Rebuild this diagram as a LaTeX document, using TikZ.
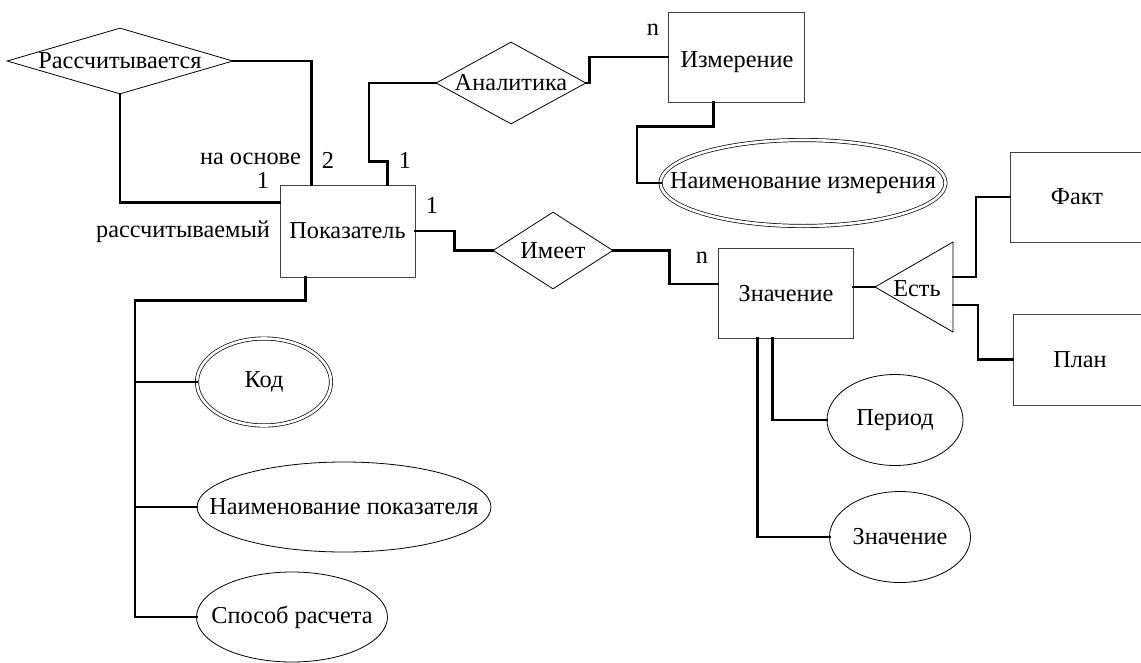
\documentclass[tikz,border=0pt]{standalone}
\usepackage{fontspec}
\setmainfont{Liberation Serif}
\usetikzlibrary{shapes.geometric}
\tikzset{
  every node/.style={font=\fontsize{24.3}{28}\selectfont, inner sep=0pt},
  ent/.style={draw=black!75, line width=0.9pt, rectangle, minimum width=135pt, minimum height=90pt},
  rel/.style={draw, line width=0.8pt, diamond},
  attr/.style={draw, line width=0.8pt, ellipse},
  attrk/.style={draw, line width=0.7pt, ellipse, double, double distance=2.6pt},
  conn/.style={line width=2.8pt, line cap=rect, line join=miter},
  lbl/.style={}
}
\begin{document}
\begin{tikzpicture}[x=1pt, y=-1pt]
\useasboundingbox (0,0) rectangle (1141,662);
\clip (0,0) rectangle (1141,662);

% entities
\node[ent, minimum width=135pt, minimum height=92pt] (pok) at (347.5,231) {Показатель};
\node[ent, minimum width=136pt, minimum height=90pt] (izm) at (736,57) {};
\node (izmt) at (737,62) {Измерение};
\node[ent] (zn) at (785.5,293) {};
\node (znt) at (786,294) {Значение};
\node[ent, minimum width=134pt, minimum height=90pt] (fakt) at (1077,197) {Факт};
\node[ent, minimum width=134pt, minimum height=91pt] (plan) at (1080,359.5) {План};

% relationships
\node[rel, minimum width=226pt, minimum height=66pt] (rass) at (120,61) {\makebox[0pt]{Рассчитывается}};
\node[rel, minimum width=150pt, minimum height=82pt] (anal) at (511,83) {\makebox[0pt]{Аналитика}};
\node[rel, minimum width=120pt, minimum height=77pt] (imeet) at (553,250.5) {\makebox[0pt]{Имеет}};

% triangle "Есть"
\coordinate (estTip) at (875,287);
\coordinate (estTop) at (953,242);
\coordinate (estBot) at (953,332);
\coordinate (estR1) at (953,277);
\coordinate (estR2) at (953,305);
\draw[line width=0.8pt] (estTip) -- (estTop) -- (estBot) -- cycle;
\node (est) at (917,289) {Есть};

% attributes
\node[attrk, minimum width=285pt, minimum height=86pt] (nizm) at (803,183) {\makebox[0pt]{Наименование измерения}};
\node[attrk, minimum width=134pt, minimum height=87pt] (kod) at (264,382) {Код};
\node[attr, minimum width=294pt, minimum height=90pt] (naimp) at (344,507) {\makebox[0pt]{Наименование показателя}};
\node[attr, minimum width=191pt, minimum height=90pt] (sposob) at (292,617) {\makebox[0pt]{Способ расчета}};
\node[attr, minimum width=136pt, minimum height=91pt] (period) at (895,420) {Период};
\node[attr, minimum width=141pt, minimum height=91pt] (znach) at (900,537) {Значение};

% connectors
\draw[conn] (rass.east) -| ([xshift=32pt]pok.north west);
\draw[conn] (rass.south) |- ([yshift=-18pt]pok.north west);
\draw[conn] ([xshift=108pt]pok.north west) -- ++(0,-23) -| (369,83) -- (anal.west);
\draw[conn] (anal.east) -- ++(3,0) |- (izm.west);
\draw[conn] ([xshift=46pt]izm.south west) -- ++(0,24) -| (637,183) -- (nizm.west);
\draw[conn] (pok.east) -- ++(39,0) |- (imeet.west);
\draw[conn] (imeet.east) -- ++(56,0) |- ([yshift=9pt]zn.west);
\draw[conn] ([yshift=6pt]zn.east) -- (estTip);
\draw[conn] (estR1) -- ++(23,0) |- (fakt.west);
\draw[conn] (estR2) -- ++(25,0) |- (plan.west);
\draw[conn] ([xshift=55pt]zn.south west) |- (period.west);
\draw[conn] ([xshift=40pt]zn.south west) |- (znach.west);
\draw[conn] ([xshift=26pt]pok.south west) -- ++(0,23) -| (135,617) -- (sposob.west);
\draw[conn] (135,382) -- (kod.west);
\draw[conn] (135,507) -- (naimp.west);

% cardinality / role labels
\node[lbl, anchor=east] (lnaosn) at (301,159) {на основе};
\node[lbl] (l2) at (328,160) {2};
\node[lbl] (l1a) at (263,180) {1};
\node[lbl] (lrass) at (183,232) {рассчитываемый};
\node[lbl] (l1b) at (405,160) {1};
\node[lbl] (ln1) at (653,30) {n};
\node[lbl] (l1c) at (432,205) {1};
\node[lbl] (ln2) at (702,258) {n};
\end{tikzpicture}
\end{document}
